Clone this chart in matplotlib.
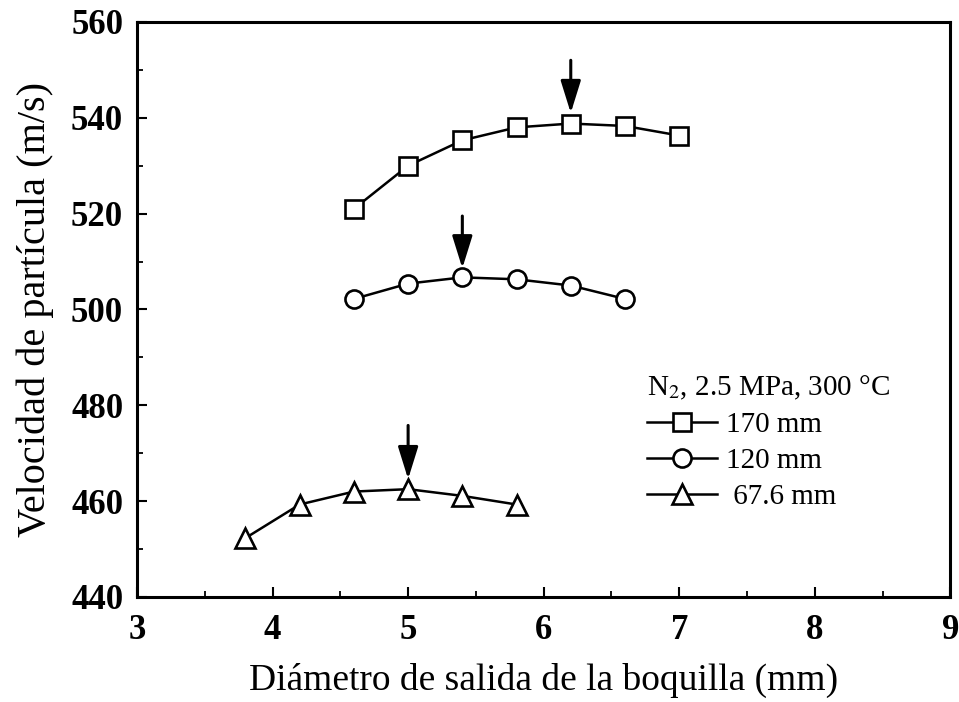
import matplotlib.pyplot as plt
from matplotlib.ticker import MultipleLocator

plt.rcParams['font.family'] = ['Liberation Serif', 'DejaVu Serif']
plt.rcParams['mathtext.fontset'] = 'stix'

# 170 mm
x_170 = [4.6, 5.0, 5.4, 5.8, 6.2, 6.6, 7.0]
v_170 = [521.0, 530.0, 535.3, 538.0, 538.8, 538.3, 536.3]
# 120 mm
x_120 = [4.6, 5.0, 5.4, 5.8, 6.2, 6.6]
v_120 = [502.2, 505.4, 506.7, 506.3, 505.0, 502.2]
# 67.6 mm
x_67 = [3.8, 4.2, 4.6, 5.0, 5.4, 5.8]
v_67 = [452.3, 459.3, 462.0, 462.5, 461.1, 459.3]

labels = ['170 mm', '120 mm', ' 67.6 mm']
markers = ['s', 'o', '^']

# arrows: x, start, tip
arrow_x = [6.2, 5.4, 5.0]
arrow_from = [552.0, 519.5, 475.8]
arrow_to = [541.0, 508.6, 464.6]

fig = plt.figure(figsize=(9.59, 7.02), dpi=100)
ax = fig.add_axes([0.1429, 0.1496, 0.848, 0.8191])

for xs, ys, m, lab in zip([x_170, x_120, x_67], [v_170, v_120, v_67], markers, labels):
    ax.plot(xs, ys, color='black', lw=1.8, marker=m, ms=13 if m != '^' else 14,
            mfc='white', mec='black', mew=1.9, label=lab)

for xa, y0, y1 in zip(arrow_x, arrow_from, arrow_to):
    ax.annotate('', xy=(xa, y1), xytext=(xa, y0),
                arrowprops=dict(arrowstyle='-|>,head_length=0.9,head_width=0.28',
                                color='black', lw=2.2,
                                mutation_scale=22, shrinkA=0, shrinkB=0))

ax.set_xlim(3, 9)
ax.set_ylim(440, 560)
ax.xaxis.set_major_locator(MultipleLocator(1))
ax.xaxis.set_minor_locator(MultipleLocator(0.5))
ax.yaxis.set_major_locator(MultipleLocator(20))
ax.yaxis.set_minor_locator(MultipleLocator(10))
ax.tick_params(which='both', direction='in', top=False, right=False)
ax.tick_params(which='major', length=7, width=1.5, labelsize=25)
ax.tick_params(axis='x', which='major', pad=12)
ax.tick_params(axis='y', which='major', pad=10)
ax.tick_params(which='minor', length=4, width=1.3)
for t in ax.get_xticklabels() + ax.get_yticklabels():
    t.set_fontweight('bold')
for s in ax.spines.values():
    s.set_linewidth(2.2)

ax.set_xlabel('Diámetro de salida de la boquilla (mm)', fontsize=27, labelpad=12)
ax.set_ylabel('Velocidad de partícula (m/s)', fontsize=29, labelpad=12)

leg = ax.legend(title='N$_2$, 2.5 MPa, 300 °C', loc='upper left',
                bbox_to_anchor=(0.609, 0.414), frameon=False, fontsize=21,
                title_fontsize=21, handlelength=2.4, handletextpad=0.3,
                labelspacing=0.33, borderpad=0)
leg._legend_box.align = 'left'

fig.savefig('out.png', dpi=100)
